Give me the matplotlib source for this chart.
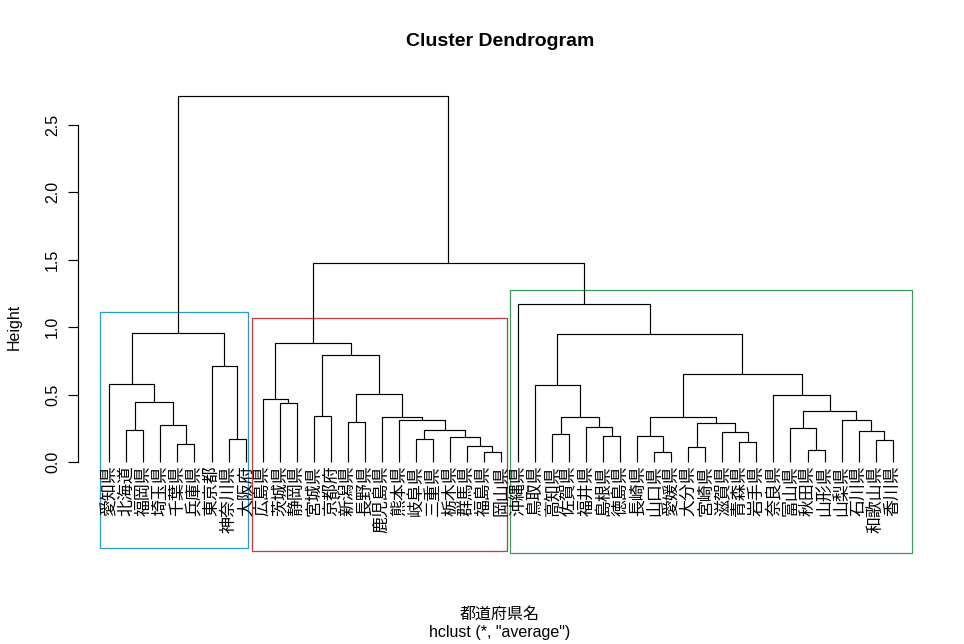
import matplotlib
matplotlib.use("Agg")
import matplotlib.pyplot as plt
from matplotlib.patches import Rectangle

plt.rcParams['font.family'] = ['Liberation Sans', 'Noto Sans CJK JP', 'DejaVu Sans']

# 葉の並び順 (左から右)
labels = ["愛知県", "北海道", "福岡県", "埼玉県", "千葉県", "兵庫県", "東京都", "神奈川県", "大阪府",
          "広島県", "茨城県", "静岡県", "宮城県", "京都府", "新潟県", "長野県", "鹿児島県", "熊本県",
          "岐阜県", "三重県", "栃木県", "群馬県", "福島県", "岡山県",
          "沖縄県", "鳥取県", "高知県", "佐賀県", "福井県", "島根県", "徳島県", "長崎県", "山口県",
          "愛媛県", "大分県", "宮崎県", "滋賀県", "青森県", "岩手県", "奈良県", "富山県", "秋田県",
          "山形県", "山梨県", "石川県", "和歌山県", "香川県"]

# 結合: (左, 右, 高さ)  文字列 = 葉, 整数 = それまでの結合の番号
merges = [
    ("千葉県", "兵庫県", 0.139),    # 0
    ("神奈川県", "大阪府", 0.176),  # 1
    ("北海道", "福岡県", 0.242),    # 2
    ("埼玉県", 0, 0.279),           # 3
    (2, 3, 0.450),                  # 4
    ("愛知県", 4, 0.579),           # 5
    ("東京都", 1, 0.717),           # 6
    (5, 6, 0.955),                  # 7
    ("福島県", "岡山県", 0.079),    # 8
    ("群馬県", 8, 0.124),           # 9
    ("岐阜県", "三重県", 0.176),    # 10
    ("栃木県", 9, 0.190),           # 11
    (10, 11, 0.237),                # 12
    ("新潟県", "長野県", 0.302),    # 13
    ("熊本県", 12, 0.312),          # 14
    ("鹿児島県", 14, 0.332),        # 15
    ("宮城県", "京都府", 0.346),    # 16
    ("茨城県", "静岡県", 0.443),    # 17
    ("広島県", 17, 0.472),          # 18
    (13, 15, 0.504),                # 19
    (16, 19, 0.794),                # 20
    (18, 20, 0.880),                # 21
    ("山口県", "愛媛県", 0.079),    # 22
    ("秋田県", "山形県", 0.094),    # 23
    ("大分県", "宮崎県", 0.116),    # 24
    ("青森県", "岩手県", 0.153),    # 25
    ("和歌山県", "香川県", 0.168),  # 26
    ("長崎県", 22, 0.198),          # 27
    ("島根県", "徳島県", 0.198),    # 28
    ("高知県", "佐賀県", 0.213),    # 29
    ("滋賀県", 25, 0.228),          # 30
    ("石川県", 26, 0.235),          # 31
    ("富山県", 23, 0.257),          # 32
    ("福井県", 28, 0.264),          # 33
    (24, 30, 0.294),                # 34
    ("山梨県", 31, 0.317),          # 35
    (29, 33, 0.339),                # 36
    (27, 34, 0.339),                # 37
    (32, 35, 0.383),                # 38
    ("奈良県", 38, 0.502),          # 39
    ("鳥取県", 36, 0.569),          # 40
    (37, 39, 0.651),                # 41
    (40, 41, 0.950),                # 42
    ("沖縄県", 42, 1.170),          # 43
    (21, 43, 1.476),                # 44
    (7, 44, 2.715),                 # 45
]

# クラスタの枠 (左, 右, 下, 上) 葉番号と高さの単位
box_left = [0.43, 9.37, 24.55]
box_right = [9.14, 24.38, 48.14]
box_bottom = [-0.638, -0.653, -0.668]
box_top = [1.113, 1.068, 1.276]
box_colors = ["#2A9BC9", "#C33B3F", "#3C9B5C"]

n = len(labels)
leaf_x = {lab: i + 1 for i, lab in enumerate(labels)}
node_x = []


def pos(c):
    # 葉なら(位置, 0)、結合なら(中点, 高さ)
    if isinstance(c, str):
        return leaf_x[c], 0.0
    return node_x[c], merges[c][2]


fig = plt.figure(figsize=(9.64, 6.44), dpi=100)
ax = fig.add_axes([78 / 964, 167 / 644, 846 / 964, 396 / 644])

for a, b, h in merges:
    xa, ha = pos(a)
    xb, hb = pos(b)
    ax.plot([xa, xa, xb, xb], [ha, h, h, hb], color="black", lw=0.85, solid_capstyle="butt")
    node_x.append((xa + xb) / 2)

for i, lab in enumerate(labels):
    ax.text(i + 1, -0.022, lab, rotation=90, ha="center", va="top",
            fontsize=12.2, family=['Noto Sans CJK JP', 'DejaVu Sans'])

for l, r, b, t, c in zip(box_left, box_right, box_bottom, box_top, box_colors):
    ax.add_patch(Rectangle((l, b), r - l, t - b, fill=False, edgecolor=c, lw=0.9, clip_on=False))

ax.set_xlim(1 - 0.04 * (n - 1), n + 0.04 * (n - 1))
ax.set_ylim(-0.04 * 2.715, 2.715 * 1.04)
for s in ["top", "right", "bottom"]:
    ax.spines[s].set_visible(False)
ax.spines["left"].set_bounds(0, 2.5)
ax.spines["left"].set_linewidth(0.85)
ax.set_xticks([])
yt = [0.0, 0.5, 1.0, 1.5, 2.0, 2.5]
ax.set_yticks(yt)
ax.set_yticklabels(["%.1f" % v for v in yt], rotation=90, va="center", fontsize=11.5)
ax.tick_params(axis="y", length=7, width=0.85, pad=6)

fig.text(14 / 964, 1 - 327 / 644, "Height", rotation=90, ha="center", va="center", fontsize=11.5)
fig.text(500 / 964, 1 - 41 / 644, "Cluster Dendrogram", ha="center", va="center",
         fontsize=14, fontweight="bold")
fig.text(500 / 964, 1 - 614 / 644, "都道府県名", ha="center", va="center", fontsize=11.5,
         family=['Noto Sans CJK JP', 'DejaVu Sans'])
fig.text(500 / 964, 1 - 633 / 644, 'hclust (*, "average")', ha="center", va="center", fontsize=11.5)

fig.savefig("out.png", dpi=100)
